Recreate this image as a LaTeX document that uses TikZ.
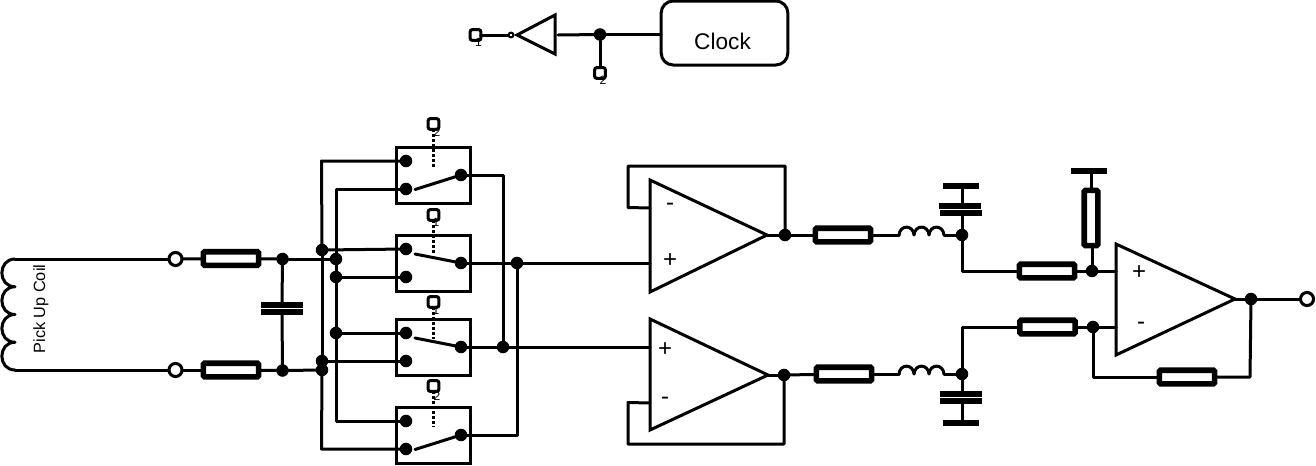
\documentclass[tikz,border=0pt]{standalone}
\usepackage{fontspec}
\setmainfont{Liberation Sans}
\tikzset{
  x=0.75pt,y=-0.75pt,
  wire/.style={line width=2.25pt,line join=round,line cap=round},
  dot/.style={circle,fill=black,draw=none,inner sep=0pt,outer sep=0pt,minimum size=9.4pt},
  term/.style={circle,fill=white,draw=black,line width=2.25pt,inner sep=0pt,outer sep=0pt,minimum size=9.8pt},
  pin/.style={rectangle,rounded corners=1.5pt,draw=black,line width=2.25pt,inner sep=0pt,outer sep=0pt,minimum size=8pt},
  resh/.style={rectangle,rounded corners=1pt,draw=black,fill=white,line width=4.2pt,inner sep=0pt,outer sep=0pt,minimum width=41.5pt,minimum height=10.2pt},
  resv/.style={resh,minimum width=10.2pt,minimum height=41.5pt},
  plate/.style={rectangle,fill=black,draw=none,inner sep=0pt,outer sep=0pt,minimum width=31pt,minimum height=4.6pt},
  gnd/.style={rectangle,fill=black,draw=none,inner sep=0pt,outer sep=0pt,minimum width=27pt,minimum height=4.5pt},
  swbox/.style={rectangle,draw=black,line width=2.25pt,inner sep=0pt,outer sep=0pt,minimum width=56pt,minimum height=42pt},
  amp/.style={draw=black,line width=2.25pt,line join=miter},
  sign/.style={inner sep=0pt,font=\fontsize{18}{18}\selectfont},
  tiny num/.style={inner sep=0pt,font=\fontsize{9}{9}\selectfont},
  ctrl/.style={line width=2.25pt,dash pattern=on 2.25pt off 1.5pt},
}
\newcommand{\swunit}[3]{% name, top y, pin y
  \node[swbox] (#1) at (433.5,#2+28) {};
  \node[dot] (#1a) at (406,#2+14) {};
  \node[dot] (#1b) at (406,#2+42) {};
  \node[dot] (#1c) at (461,#2+28) {};
  \node[pin] (#1q) at (433.5,#3) {};
  \coordinate (#1e) at (433.5,#2+20);
  \draw[ctrl] (#1q) -- (#1e);
}
\begin{document}
\begin{tikzpicture}
\fill[white] (0,0) rectangle (1316,465);
\useasboundingbox (0,0) rectangle (1316,465);

% clock section
\node[pin] (p1) at (475.5,35) {};
\node[tiny num] at (478.5,42) {1};
\node[circle,draw=black,line width=1.5pt,fill=white,inner sep=0pt,outer sep=0pt,minimum size=3.6pt] (bub) at (511,35) {};
\coordinate (inva) at (517,35);
\coordinate (invb) at (555,15);
\coordinate (invc) at (555,54);
\coordinate (invo) at (558,35);
\draw[amp] (inva) -- (invb) -- (invc) -- cycle;
\node[dot] (j0) at (600,34.5) {};
\node[pin] (p2) at (600,73) {};
\node[tiny num] at (603,80) {2};
\node[rectangle,draw=black,line width=2.25pt,rounded corners=9pt,inner sep=0pt,outer sep=0pt,minimum width=95pt,minimum height=48pt] (clk) at (724.5,33) {};
\node[inner sep=0pt,font=\fontsize{17}{17}\selectfont] (clkt) at (722.5,41) {Clock};
\draw[wire] (p1) -- (bub);
\draw[wire] (invo) -- (j0);
\draw[wire] (j0) -- (j0 -| clk.west);
\draw[wire] (j0) -- (p2);

% coil
\coordinate (c1) at (15,259);
\coordinate (c2) at (15,370);
\draw[wire] (c1) foreach \i in {1,...,4} { .. controls +(-17.5,0) and +(-17.5,0) .. ++(0,27.75)};
\node[inner sep=0pt,rotate=90,font=\fontsize{12.2}{12}\selectfont] (coil) at (41,309) {Pick Up Coil};
\node[term] (t1) at (175.5,259) {};
\node[term] (t2) at (175.5,370) {};
\node[resh] (r1) at (231,258.5) {};
\node[resh] (r2) at (231,370) {};
\node[dot] (j1) at (282.5,259) {};
\node[dot] (j2) at (282.5,370.5) {};
\node[plate] (cp1) at (282,305) {};
\node[plate] (cp2) at (282,312.3) {};
\draw[wire] (c1) -- (t1);
\draw[wire] (c2) -- (t2);
\draw[wire] (t1) -- (r1);
\draw[wire] (t2) -- (r2);
\draw[wire] (r1) -- (j1);
\draw[wire] (r2) -- (j2);
\draw[wire] (j1) -- (cp1);
\draw[wire] (cp2) -- (j2);

% switches
\swunit{sa}{147}{124}
\swunit{sb}{235}{215}
\swunit{sc}{319}{302}
\swunit{sd}{407}{386}
\node[tiny num] at (437,132) {2};
\node[tiny num] at (436,222) {1};
\node[tiny num] at (436,310) {1};
\node[tiny num] at (437,396) {2};
\coordinate (aa) at (415,189.5);
\coordinate (ab) at (415,254);
\coordinate (ac) at (415,338);
\coordinate (ad) at (415,449.5);
\draw[wire] (aa) -- (sac);
\draw[wire] (ab) -- (sbc);
\draw[wire] (ac) -- (scc);
\draw[wire] (ad) -- (sdc);

% buses
\node[dot] (k1) at (322,250) {};
\node[dot] (k2) at (336,259) {};
\node[dot] (k3) at (336,277) {};
\node[dot] (k4) at (336,333) {};
\node[dot] (k5) at (322,361) {};
\node[dot] (k6) at (322,370) {};
\node[dot] (m1) at (517,263) {};
\node[dot] (m2) at (503,347) {};
\coordinate (b1) at (321.5,161);
\coordinate (b2) at (321.5,449);
\coordinate (b3) at (336,189);
\coordinate (b4) at (336,421);
\coordinate (e1) at (503,175);
\coordinate (e2) at (517,435);
\draw[wire] (sab) -- (b3) -- (k2);
\draw[wire] (saa) -- (b1) -- (k1);
\draw[wire] (k1) -- (k5);
\draw[wire] (k5) -- (k6);
\draw[wire] (k6) -- (b2) -- (sdb);
\draw[wire] (k2) -- (k3);
\draw[wire] (k3) -- (k4);
\draw[wire] (k4) -- (b4) -- (sda);
\draw[wire] (j1) -- (k2);
\draw[wire] (j2) -- (k6);
\draw[wire] (k1) -- (sba);
\draw[wire] (k3) -- (sbb);
\draw[wire] (k4) -- (sca);
\draw[wire] (k5) -- (scb);
\draw[wire] (sac) -- (e1) -- (m2);
\draw[wire] (sbc) -- (m1);
\draw[wire] (scc) -- (m2);
\draw[wire] (m1) -- (e2) -- (sdc);

% upper amplifier
\coordinate (ua) at (650,180);
\coordinate (ub) at (650,292);
\coordinate (uo) at (767,235);
\coordinate (up) at (650,263);
\coordinate (un) at (650,208);
\coordinate (uf1) at (628,207.5);
\coordinate (uf2) at (628,166);
\coordinate (uf3) at (785,166);
\draw[amp] (ua) -- (uo) -- (ub) -- cycle;
\node[sign] at (670,261) {+};
\node[sign] at (670,207) {-};
\node[dot] (uj) at (785,235) {};
\node[resh] (r3) at (843,235) {};
\coordinate (l1a) at (899,235);
\coordinate (l1b) at (944,235);
\node[dot] (n1) at (962,235) {};
\node[plate] (cp3) at (960,205.8) {};
\node[plate] (cp4) at (961,213.2) {};
\node[gnd] (g1) at (961,186) {};
\coordinate (n1c) at (962,271);
\node[resh] (r4) at (1047,271) {};
\node[dot] (n2) at (1092,271) {};
\node[resv] (r5) at (1091,218) {};
\node[gnd] (g2) at (1089,171) {};
\draw[wire] (un) -- (uf1) -- (uf2) -- (uf3) -- (uj);
\draw[wire] (m1) -- (up);
\draw[wire] (uo) -- (uj);
\draw[wire] (uj) -- (r3);
\draw[wire] (r3) -- (l1a);
\draw[wire] (l1a) foreach \i in {1,2,3} { .. controls +(1,-10.5) and +(-1,-10.5) .. ++(15,0)};
\draw[wire] (l1b) -- (n1);
\draw[wire] (n1) -- (cp4.south -| n1);
\draw[wire] (cp3.north -| n1) -- (g1.south -| n1);
\draw[wire] (n1) -- (n1c) -- (r4);
\draw[wire] (r4) -- (n2);
\draw[wire] (n2) -- (n2 |- r5.south);
\draw[wire] (r5) -- (r5 |- g2);

% lower amplifier
\coordinate (la) at (650,319);
\coordinate (lb) at (650,430);
\coordinate (lo) at (768,375);
\coordinate (lp) at (650,347);
\coordinate (ln) at (650,403);
\coordinate (lf1) at (628,402.5);
\coordinate (lf2) at (628,444);
\coordinate (lf3) at (784,444);
\draw[amp] (la) -- (lo) -- (lb) -- cycle;
\node[sign] at (665,350) {+};
\node[sign] at (665,401) {-};
\node[dot] (lj) at (784,375) {};
\node[resh] (r6) at (844,374) {};
\coordinate (l2a) at (899,374);
\coordinate (l2b) at (944,374);
\node[dot] (n3) at (962,374) {};
\node[plate] (cp5) at (961,394) {};
\node[plate] (cp6) at (961,401) {};
\node[gnd] (g3) at (961,423) {};
\coordinate (n3c) at (962,327);
\node[resh] (r7) at (1047.5,327) {};
\node[dot] (n4) at (1093,327) {};
\draw[wire] (ln) -- (lf1) -- (lf2) -- (lf3) -- (lj);
\draw[wire] (m2) -- (lp);
\draw[wire] (lo) -- (lj);
\draw[wire] (lj) -- (r6);
\draw[wire] (r6) -- (l2a);
\draw[wire] (l2a) foreach \i in {1,2,3} { .. controls +(1,-10.5) and +(-1,-10.5) .. ++(15,0)};
\draw[wire] (l2b) -- (n3);
\draw[wire] (n3) -- (n3 |- cp5.north);
\draw[wire] (n3 |- cp6.south) -- (n3 |- g3.north);
\draw[wire] (n3) -- (n3c) -- (r7);
\draw[wire] (r7) -- (n4);

% output amplifier
\coordinate (oa) at (1116,244);
\coordinate (ob) at (1116,355);
\coordinate (oo) at (1235,299);
\coordinate (op) at (1116,271);
\coordinate (on) at (1116,327);
\draw[amp] (oa) -- (oo) -- (ob) -- cycle;
\node[sign] at (1139,273) {+};
\node[sign] at (1141,326) {-};
\node[dot] (oj) at (1251,299) {};
\node[term] (t3) at (1307,299) {};
\node[resh] (r8) at (1187,377) {};
\coordinate (f1) at (1250,377);
\coordinate (f2) at (1093,377);
\draw[wire] (n2) -- (op);
\draw[wire] (n4) -- (on);
\draw[wire] (oo) -- (oj);
\draw[wire] (oj) -- (t3);
\draw[wire] (oj) -- (f1) -- (r8);
\draw[wire] (r8) -- (f2) -- (n4);
\end{tikzpicture}
\end{document}
